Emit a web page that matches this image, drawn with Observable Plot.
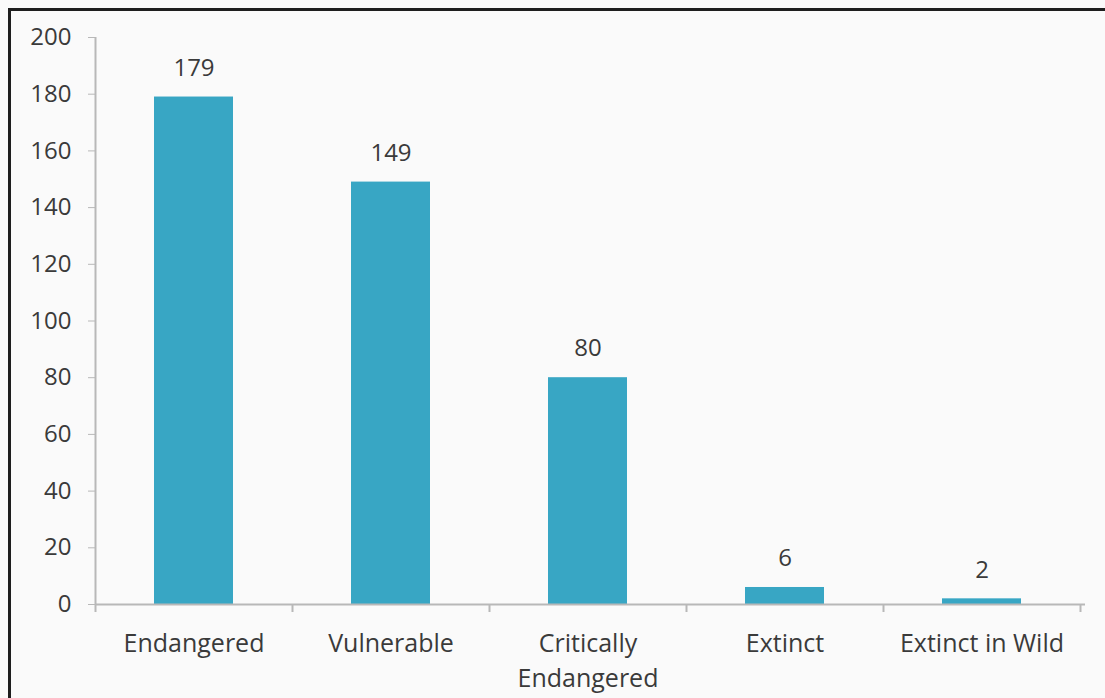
<!DOCTYPE html>
<html>
<head>
<meta charset="utf-8">
<script src="https://cdn.jsdelivr.net/npm/d3@7"></script>
<script src="https://cdn.jsdelivr.net/npm/@observablehq/plot@0.6"></script>
<style>
  html, body { margin: 0; padding: 0; background: #fafafa; }
  #wrap { position: relative; width: 1105px; height: 698px; overflow: hidden; background: #fafafa; }
  #frame { position: absolute; left: 8px; top: 8px; width: 1105px; height: 700px; border-top: 3px solid #1e1e1e; border-left: 3px solid #1e1e1e; pointer-events: none; }
</style>
</head>
<body>
<div id="wrap"><div id="frame"></div></div>
<script>
const categories = ["Endangered", "Vulnerable", "Critically Endangered", "Extinct", "Extinct in Wild"];
const values = [179, 149, 80, 6, 2];
const yTicks = [0, 20, 40, 60, 80, 100, 120, 140, 160, 180, 200];
const tickLabels = ["Endangered", "Vulnerable", "Critically\nEndangered", "Extinct", "Extinct in Wild"];

const data = categories.map((c, i) => ({category: c, value: values[i]}));
const step = (1080 - 95) / categories.length;
const axisColor = "#b8b8b8";
const textColor = "#3a3a3a";

const chart = Plot.plot({
  width: 1105,
  height: 698,
  marginLeft: 95,
  marginRight: 25,
  marginTop: 37,
  marginBottom: 94,
  style: {background: "transparent", fontFamily: "'Open Sans', sans-serif", fontSize: "25px", color: textColor},
  x: {domain: categories, paddingInner: 0.6, paddingOuter: 0.3, label: null},
  y: {domain: [0, 200], label: null},
  marks: [
    Plot.barY(data, {x: "category", y: "value", fill: "#38a6c4"}),
    Plot.ruleY([0], {stroke: axisColor, strokeWidth: 2, insetRight: -5}),
    Plot.ruleX([categories[0]], {x: d => d, dx: -step / 2, y1: 0, y2: 200, stroke: axisColor, strokeWidth: 2}),
    Plot.ruleX(categories, {x: d => d, dx: -step / 2, y1: 0, y2: 0, insetBottom: -8, stroke: axisColor, strokeWidth: 2}),
    Plot.ruleX([categories[categories.length - 1]], {x: d => d, dx: step / 2, y1: 0, y2: 0, insetBottom: -8, stroke: axisColor, strokeWidth: 2}),
    Plot.axisY({ticks: yTicks, tickSize: 7, tickPadding: 17, stroke: axisColor, fill: textColor, tickFormat: d => String(d), fontSize: 24}),
    Plot.axisX({tickSize: 0, tickPadding: 22, tickFormat: d => tickLabels[categories.indexOf(d)], fill: textColor, fontSize: 25, lineHeight: 1.42}),
    Plot.text(data, {x: "category", y: "value", text: d => String(d.value), dy: -29, fill: textColor, fontSize: 24})
  ]
});
document.getElementById("wrap").prepend(chart);
chart.style.position = "absolute";
chart.style.left = "0px";
chart.style.top = "0px";
</script>
</body>
</html>
